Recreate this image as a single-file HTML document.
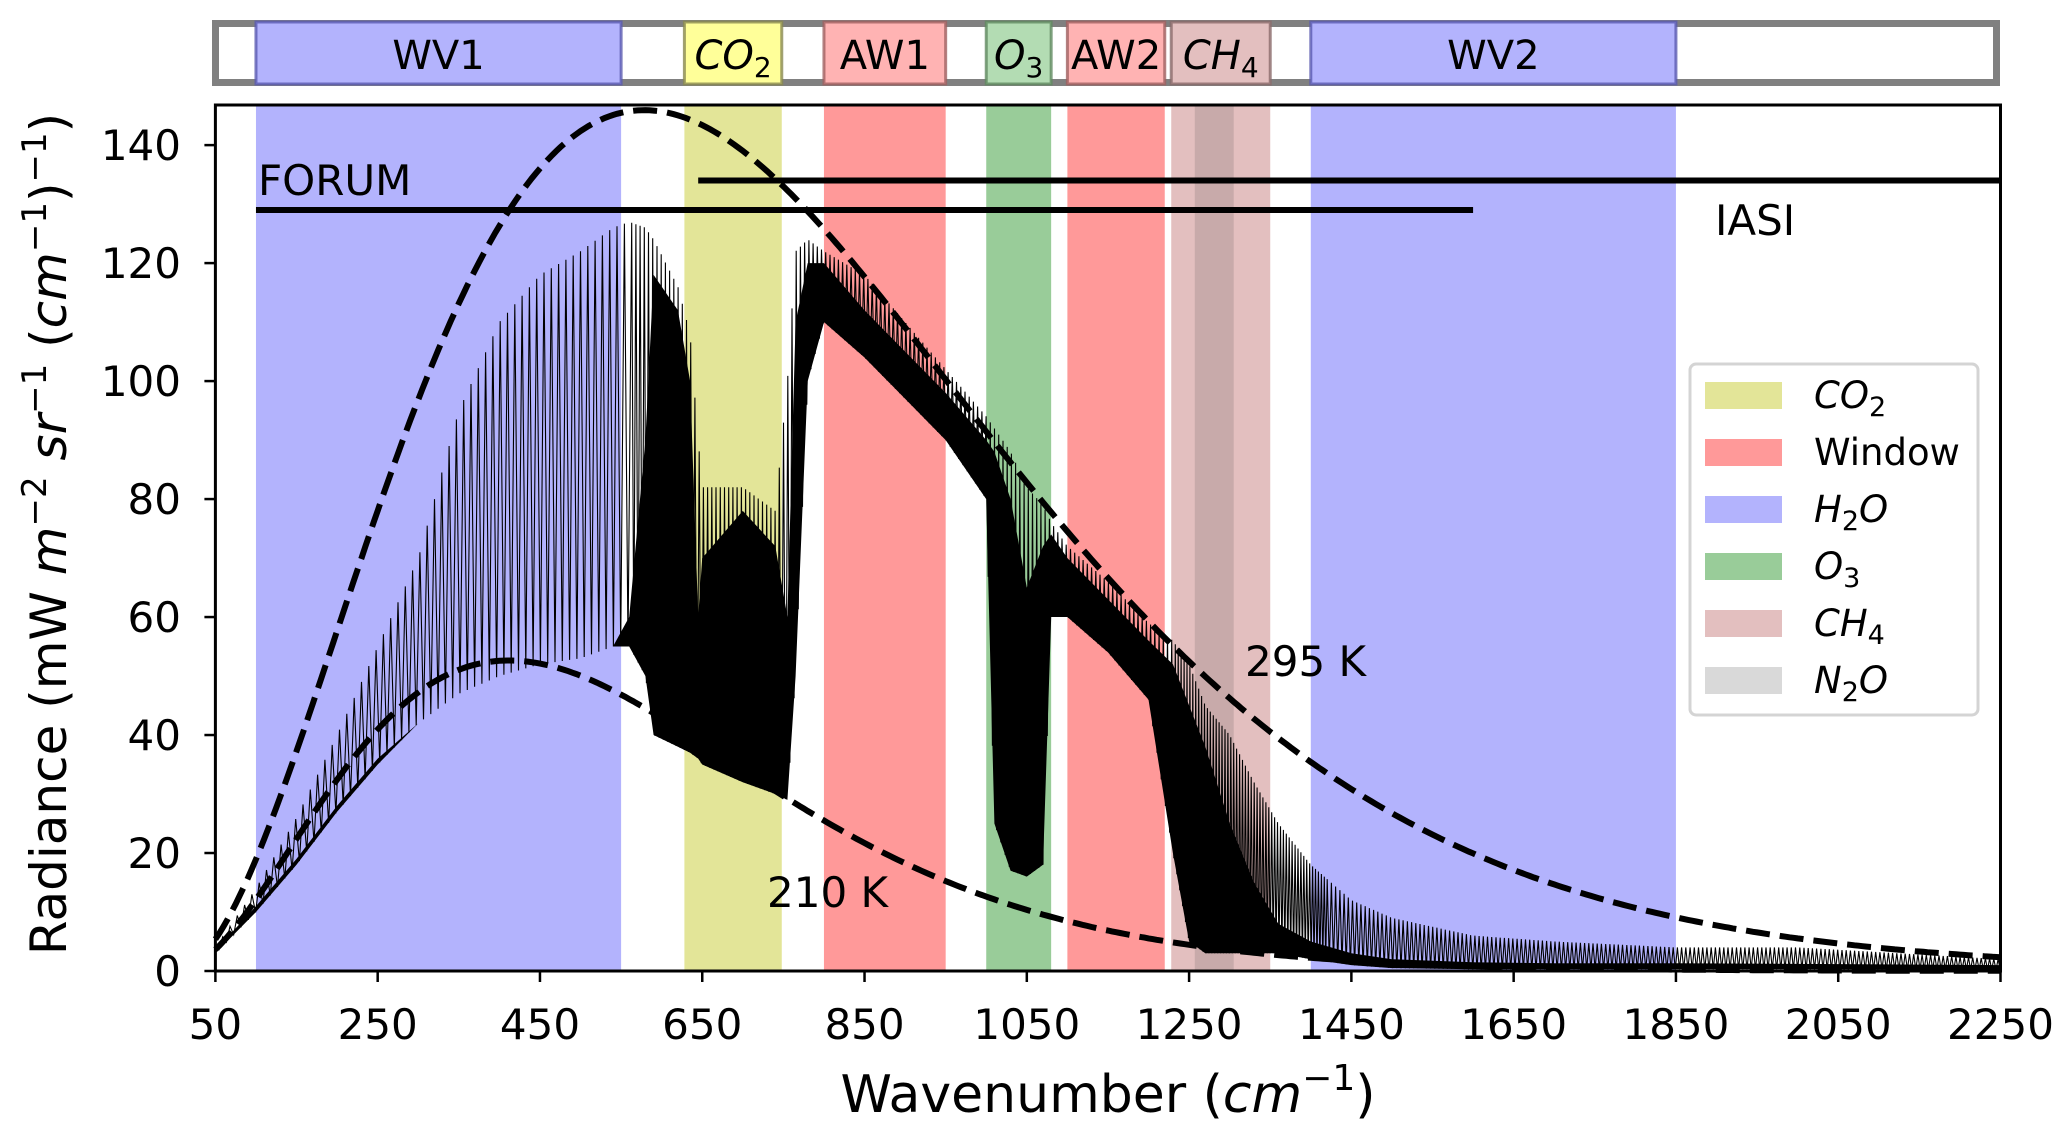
<!DOCTYPE html>
<html><head><meta charset="utf-8"><style>
html,body{margin:0;padding:0;background:#fff;}
svg{display:block;font-family:"DejaVu Sans","Liberation Sans",sans-serif;}
</style></head><body>
<svg id="chart" width="2067" height="1133" viewBox="0 0 2067 1133" xmlns="http://www.w3.org/2000/svg">
<g id="bands"></g>
<g id="topbox"></g>
<g id="spectrum"></g>
<g id="planck"></g>
<g id="instruments"></g>
<g id="axes"></g>
<g id="legend"></g>
</svg>
<script>
// ---- data ----
const xTicks = [50,250,450,650,850,1050,1250,1450,1650,1850,2050,2250];
const yTicks = [0,20,40,60,80,100,120,140];
const bandNames = ["WV1","CO2","AW1","O3","AW2","CH4","N2O","WV2"];
const bandStart = [100,628,800,1000,1100,1228,1257,1400];
const bandEnd   = [550,748,950,1080,1220,1350,1305,1850];
const bandGas   = ["H2O","CO2","Window","O3","Window","CH4","N2O","H2O"];
const temps = [295,210];
const tempLabels = ["295 K","210 K"];
const instNames = ["FORUM","IASI"];
const instStart = [100,645];
const instEnd = [1600,2250];
const instLevel = [129,134];
const specWn =    [50,100,150,200,250,300,350,400,450,500,540,560,580,590,620,635,645,650,700,740,755,765,780,800,850,900,950,1000,1010,1030,1050,1070,1080,1100,1150,1200,1230,1250,1270,1300,1330,1360,1400,1450,1500,1600,1700,1850,2000,2250];
const specUpper = [4,14,26,40,55,70,95,110,118,122,126,127,126,124,116,108,90,82,82,78,100,122,124,122,118,110,102,94,92,88,82,79,76,72,66,59,56,52,45,40,32,25,18,12,9,6,5,4,4,2];
const specCore =  [3.5,11,19,28,36,42,47,50,52,53,55,60,90,118,112,100,60,70,78,72,60,110,120,120,112,105,98,90,88,80,65,72,74,70,63,56,52,45,38,25,15,8,5,3,2,1.5,1.3,1.3,1.2,1];
const specLower = [3,10,18,27,35,42,47,50,52,53,55,55,50,40,38,37,36,35,32,30,29,50,100,110,104,97,90,80,25,17,16,18,60,60,54,46,20,5,3,3,3,3,2,1,0.5,0.3,0.3,0.3,0.3,0.2];

// ---- axes functions ----
const X0=215.4, X1=2000.5, Y0=971, Y1=105;
const xmin=50,xmax=2250,ymin=0,ymax=146.8;
const sx=v=>X0+(v-xmin)/(xmax-xmin)*(X1-X0);
const sy=v=>Y0-(v-ymin)/(ymax-ymin)*(Y0-Y1);
const NS="http://www.w3.org/2000/svg";
function mk(tag,attrs,parent){const e=document.createElementNS(NS,tag);for(const k in attrs)e.setAttribute(k,attrs[k]);parent.appendChild(e);return e;}
const gasColor={H2O:"#b3b3fd",CO2:"#e3e598",Window:"#ff9999",O3:"#99cc99",CH4:"#e3bfbf",N2O:"#c8aaaa"};
const boxColor={WV1:"#b3b3fd",CO2:"#ffff99",AW1:"#ffb3b3",O3:"#b3dcb3",AW2:"#ffb3b3",CH4:"#e3bfbf",WV2:"#b3b3fd"};
const boxEdge={WV1:"#5a5ab0",CO2:"#8a8a50",AW1:"#a06060",O3:"#608a60",AW2:"#a06060",CH4:"#8a6a6a",WV2:"#5a5ab0"};
const labelHtml={WV1:"WV1",CO2:"<tspan font-style='italic'>CO</tspan><tspan font-size='28' dy='8'>2</tspan>",AW1:"AW1",O3:"<tspan font-style='italic'>O</tspan><tspan font-size='28' dy='8'>3</tspan>",AW2:"AW2",CH4:"<tspan font-style='italic'>CH</tspan><tspan font-size='28' dy='8'>4</tspan>",WV2:"WV2"};

// bands in plot
const gB=document.getElementById('bands');
bandNames.forEach((n,i)=>{
  const r=mk('rect',{x:sx(bandStart[i]),y:Y1,width:sx(bandEnd[i])-sx(bandStart[i]),height:Y0-Y1,fill:gasColor[bandGas[i]]},gB);
  
  
});

// top strip
const gT=document.getElementById('topbox');
const strip=mk('rect',{x:215.5,y:23.5,width:1781,height:59,fill:"#fff",stroke:"#808080","stroke-width":7},gT);


bandNames.forEach((n,i)=>{
  if(n==="N2O")return;
  const x=sx(bandStart[i]),w=sx(bandEnd[i])-x;
  const r=mk('rect',{x:x,y:22,width:w,height:62,fill:boxColor[n],stroke:boxEdge[n],"stroke-width":3,"stroke-opacity":0.8},gT);
  
  
  const t=mk('text',{x:x+w/2,y:69,"text-anchor":"middle","font-size":40,fill:"#000"},gT);
  t.innerHTML=labelHtml[n];
  
  
});

// spectrum
function interp(arr,w){
  for(let k=0;k<specWn.length-1;k++){if(w<=specWn[k+1]){const f=(w-specWn[k])/(specWn[k+1]-specWn[k]);return arr[k]+f*(arr[k+1]-arr[k]);}}
  return arr[arr.length-1];
}
const gS=document.getElementById('spectrum');
let core="M"+sx(specWn[0])+","+sy(specLower[0]);
for(let i=0;i<specWn.length;i++)core+=" L"+sx(specWn[i]).toFixed(1)+","+sy(specCore[i]).toFixed(1);
for(let i=specWn.length-1;i>=0;i--)core+=" L"+sx(specWn[i]).toFixed(1)+","+sy(specLower[i]).toFixed(1);
core+=" Z";
const pc=mk('path',{d:core,fill:"#000"},gS);


let zz="";let up=true;
for(let w=specWn[0];w<=specWn[specWn.length-1];){
  const v=up?interp(specUpper,w):interp(specLower,w);
  zz+=(zz?" L":"M")+sx(w).toFixed(1)+","+sy(v).toFixed(1);
  up=!up;
  w+= (w<560)?4.5:(w>1230&&w<1420)?1.8:2.6;
}
const pz=mk('path',{d:zz,fill:"none",stroke:"#000","stroke-width":1.1},gS);



// planck curves
const gP=document.getElementById('planck');
const c1=1.191042e-5,c2=1.4387752;
temps.forEach((T,i)=>{
  let d="";
  for(let w=xmin;w<=xmax;w+=5){const B=c1*w*w*w/(Math.exp(c2*w/T)-1);d+=(d?" L":"M")+sx(w).toFixed(1)+","+sy(B).toFixed(1);}
  const p=mk('path',{d:d,fill:"none",stroke:"#000","stroke-width":6,"stroke-dasharray":"24,10"},gP);
  
  
});
const tl1=mk('text',{x:1245,y:676,"font-size":42},gP);tl1.textContent=tempLabels[0];


const tl2=mk('text',{x:767,y:907,"font-size":42},gP);tl2.textContent=tempLabels[1];



// instruments
const gI=document.getElementById('instruments');
instNames.forEach((n,i)=>{
  const l=mk('line',{x1:sx(instStart[i]),x2:sx(instEnd[i]),y1:sy(instLevel[i]),y2:sy(instLevel[i]),stroke:"#000","stroke-width":6},gI);
  
  
});
const f1=mk('text',{x:258,y:195,"font-size":42},gI);f1.textContent=instNames[0];


const f2=mk('text',{x:1715,y:235,"font-size":42},gI);f2.textContent=instNames[1];



// axes
const gA=document.getElementById('axes');
const fr=mk('rect',{x:X0,y:Y1,width:X1-X0,height:Y0-Y1,fill:"none",stroke:"#000","stroke-width":3},gA);


xTicks.forEach(v=>{
  const t=mk('line',{x1:sx(v),x2:sx(v),y1:Y0,y2:Y0+11,stroke:"#000","stroke-width":2.5},gA);
  
  
  const l=mk('text',{x:sx(v),y:1039,"text-anchor":"middle","font-size":42},gA);l.textContent=v;
  
  
});
yTicks.forEach(v=>{
  const t=mk('line',{x1:X0-11,x2:X0,y1:sy(v),y2:sy(v),stroke:"#000","stroke-width":2.5},gA);
  
  
  const l=mk('text',{x:181,y:sy(v)+15,"text-anchor":"end","font-size":42},gA);l.textContent=v;
  
  
});
const xl=mk('text',{x:1108,y:1112,"text-anchor":"middle","font-size":52},gA);
xl.innerHTML="Wavenumber (<tspan font-style='italic'>cm</tspan><tspan font-size='36' dy='-22'>−1</tspan><tspan dy='22'>)</tspan>";


const yl=mk('text',{x:0,y:0,"text-anchor":"middle","font-size":50,transform:"translate(66,534) rotate(-90)"},gA);
yl.innerHTML="Radiance (mW <tspan font-style='italic'>m</tspan><tspan font-size='34' dy='-20'>−2</tspan><tspan dy='20'> </tspan><tspan font-style='italic'>sr</tspan><tspan font-size='34' dy='-20'>−1</tspan><tspan dy='20'> (</tspan><tspan font-style='italic'>cm</tspan><tspan font-size='34' dy='-20'>−1</tspan><tspan dy='20'>)</tspan><tspan font-size='34' dy='-20'>−1</tspan><tspan dy='20'>)</tspan>";



// legend
const gL=document.getElementById('legend');
const legGas=["CO2","Window","H2O","O3","CH4","N2O"];
const legHtml=["<tspan font-style='italic'>CO</tspan><tspan font-size='27' dy='8'>2</tspan>","Window","<tspan font-style='italic'>H</tspan><tspan font-size='27' dy='8'>2</tspan><tspan font-style='italic' dy='-8'>O</tspan>","<tspan font-style='italic'>O</tspan><tspan font-size='27' dy='8'>3</tspan>","<tspan font-style='italic'>CH</tspan><tspan font-size='27' dy='8'>4</tspan>","<tspan font-style='italic'>N</tspan><tspan font-size='27' dy='8'>2</tspan><tspan font-style='italic' dy='-8'>O</tspan>"];
const legFill={CO2:"#e3e598",Window:"#ff9999",H2O:"#b3b3fd",O3:"#99cc99",CH4:"#e3bfbf",N2O:"#d9d9d9"};
const lb=mk('rect',{x:1690,y:364,width:288,height:351,rx:6,fill:"#fff",stroke:"#d4d4d4","stroke-width":3},gL);


legGas.forEach((g,i)=>{
  const cy=395+i*57;
  const s=mk('rect',{x:1705,y:cy-13,width:77,height:27,fill:legFill[g]},gL);
  
  
  const t=mk('text',{x:1814,y:cy+13,"font-size":37},gL);t.innerHTML=legHtml[i];
  
  
});
</script>
</body></html>
